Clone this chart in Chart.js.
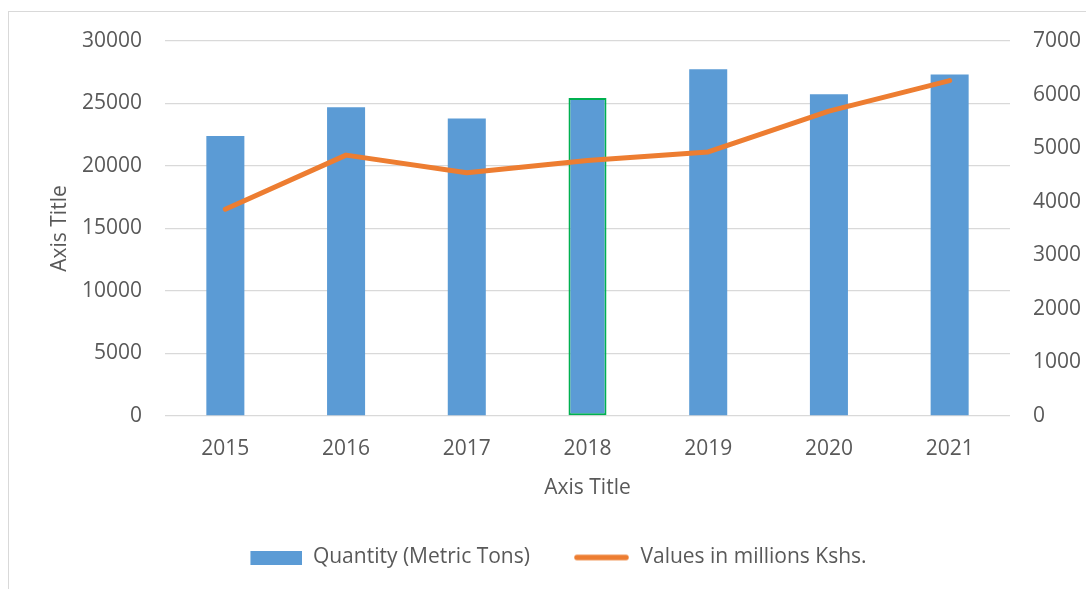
<!DOCTYPE html>
<html>
<head>
<meta charset="utf-8">
<script src="https://cdn.jsdelivr.net/npm/chart.js@4.4.1/dist/chart.umd.min.js"></script>
<style>
  html, body { margin: 0; padding: 0; background: #ffffff; }
  #wrap { position: relative; width: 1086px; height: 589px; overflow: hidden; }
  #frame { position: absolute; left: 8px; top: 11px; width: 1200px; height: 700px;
           border-left: 1.5px solid #d9d9d9; border-top: 1.5px solid #d9d9d9; }
  canvas { position: absolute; left: 0; top: 0; }
</style>
</head>
<body>
<div id="wrap">
  <div id="frame"></div>
  <canvas id="c" width="1086" height="589" style="width:1086px;height:589px"></canvas>
</div>
<script>
const categories = ['2015', '2016', '2017', '2018', '2019', '2020', '2021'];
const quantityTons = [22400, 24700, 23800, 25450, 27750, 25750, 27330];
const valuesMillionsKshs = [3860, 4870, 4540, 4770, 4930, 5690, 6260];
const seriesNames = ['Quantity (Metric Tons)', 'Values in millions Kshs.'];
const axisTitle = 'Axis Title';

const TXT = '#595959';
const FONT = 'Open Sans';
const FS = 21;
const BLUE = '#5B9BD5';
const ORANGE = '#ED7D31';

const barBorderColors = categories.map(c => c === '2018' ? '#00B050' : 'rgba(0,0,0,0)');
const barBorderWidths = categories.map(c => c === '2018' ? 2 : 0);

// legend symbol images (right-aligned inside a wider slot to reproduce spacing)
const SLOT = 89;
function makeSymbol(kind) {
  const cv = document.createElement('canvas');
  cv.width = SLOT;
  cv.height = 14;
  const g = cv.getContext('2d');
  if (kind === 'bar') {
    g.fillStyle = BLUE;
    g.fillRect(SLOT - 52, 0, 52, 14);
  } else {
    g.strokeStyle = ORANGE;
    g.lineWidth = 5.5;
    g.lineCap = 'round';
    g.beginPath();
    g.moveTo(SLOT - 53, 7);
    g.lineTo(SLOT - 4, 7);
    g.stroke();
  }
  return cv;
}
const barSymbol = makeSymbol('bar');
const lineSymbol = makeSymbol('line');

new Chart(document.getElementById('c'), {
  data: {
    labels: categories,
    datasets: [
      {
        type: 'line',
        label: seriesNames[1],
        data: valuesMillionsKshs,
        yAxisID: 'y1',
        borderColor: ORANGE,
        backgroundColor: ORANGE,
        borderWidth: 5,
        borderCapStyle: 'round',
        borderJoinStyle: 'round',
        tension: 0,
        pointRadius: 0,
        pointHoverRadius: 0,
        order: 0
      },
      {
        type: 'bar',
        label: seriesNames[0],
        data: quantityTons,
        yAxisID: 'y',
        backgroundColor: BLUE,
        borderColor: barBorderColors,
        borderWidth: barBorderWidths,
        borderSkipped: false,
        categoryPercentage: 1,
        barPercentage: 0.315,
        order: 1
      }
    ]
  },
  options: {
    responsive: false,
    animation: false,
    devicePixelRatio: 1,
    layout: { padding: { left: 0, right: 6, top: 41, bottom: 11 } },
    plugins: {
      tooltip: { enabled: false },
      legend: {
        position: 'bottom',
        reverse: true,
        labels: {
          usePointStyle: true,
          pointStyleWidth: SLOT,
          boxHeight: 14,
          padding: 11,
          color: TXT,
          font: { family: FONT, size: FS },
          generateLabels: (chart) => {
            const items = Chart.defaults.plugins.legend.labels.generateLabels(chart);
            items.forEach(it => {
              const ds = chart.data.datasets[it.datasetIndex];
              it.pointStyle = ds.type === 'bar' ? barSymbol : lineSymbol;
            });
            return items;
          }
        }
      }
    },
    scales: {
      x: {
        grid: { display: false, drawTicks: false },
        border: { display: false },
        ticks: { color: TXT, font: { family: FONT, size: FS }, padding: 20, maxRotation: 0 },
        title: { display: true, text: axisTitle, color: TXT, font: { family: FONT, size: FS }, padding: { top: 0, bottom: 35 } },
        afterFit: s => { s.height = 120; }
      },
      y: {
        position: 'left',
        min: 0, max: 30000,
        ticks: { stepSize: 5000, color: TXT, font: { family: FONT, size: FS }, padding: 23, callback: v => String(v) },
        grid: { color: '#d9d9d9', lineWidth: 1.3, drawTicks: false },
        border: { display: false },
        title: { display: true, text: axisTitle, color: TXT, font: { family: FONT, size: FS }, padding: { top: 47, bottom: 0 } },
        afterFit: s => { s.width = 165; }
      },
      y1: {
        position: 'right',
        min: 0, max: 7000,
        ticks: { stepSize: 1000, color: TXT, font: { family: FONT, size: FS }, padding: 23, callback: v => String(v) },
        grid: { display: false, drawTicks: false },
        border: { display: false },
        afterFit: s => { s.width = 70; }
      }
    }
  }
});
</script>
</body>
</html>
